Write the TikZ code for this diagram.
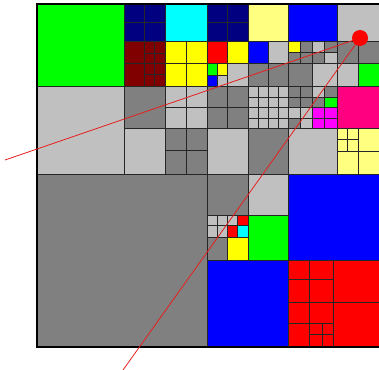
\documentclass[tikz,border=0pt]{standalone}
\usetikzlibrary{shapes.geometric}
\definecolor{qgreen}{RGB}{0,255,0}
\definecolor{qnavy}{RGB}{0,0,128}
\definecolor{qcyan}{RGB}{0,255,255}
\definecolor{qmaroon}{RGB}{128,0,0}
\definecolor{qyellow}{RGB}{255,255,0}
\definecolor{qlyellow}{RGB}{255,255,128}
\definecolor{qblue}{RGB}{0,0,255}
\definecolor{qlgray}{RGB}{192,192,192}
\definecolor{qgray}{RGB}{128,128,128}
\definecolor{qred}{RGB}{255,0,0}
\definecolor{qmagenta}{RGB}{255,0,255}
\definecolor{qpink}{RGB}{255,0,128}
\definecolor{rayred}{RGB}{230,30,30}
\tikzset{
  cellbox/.style={draw=black!85, line width=0.9pt},
  rayline/.style={draw=rayred, line width=0.8pt},
  raydot/.style={circle, fill=qred, draw=none, minimum size=16pt, inner sep=0pt}
}
\newcommand\qcell[5]{\filldraw[cellbox, fill=#1] (#2,#3) rectangle (#4,#5);}
\begin{document}
\begin{tikzpicture}[x=1pt,y=-1pt]
\useasboundingbox (0,0) rectangle (379,369);
\fill[white] (0,0) rectangle (379,369);
\clip (0,0) rectangle (379,369);
% ---------- top-left quadrant
\qcell{qgreen}{37}{4}{124}{86}
\foreach \a/\b/\c/\d in {124/4/144/22,144/4/165/22,124/22/144/41,144/22/165/41,
  207/4/227/22,227/4/248/22,207/22/227/41,227/22/248/41}
  {\qcell{qnavy}{\a}{\b}{\c}{\d}}
\qcell{qcyan}{165}{4}{207}{41}
\foreach \a/\b/\c/\d in {124/41/144/63,124/63/144/86,144/41/154/53,154/41/165/53,
  144/53/154/63,154/53/165/63,144/63/154/74,154/63/165/74,144/74/154/86,154/74/165/86}
  {\qcell{qmaroon}{\a}{\b}{\c}{\d}}
\foreach \a/\b/\c/\d in {165/41/186/63,186/41/207/63,165/63/186/86,186/63/207/86}
  {\qcell{qyellow}{\a}{\b}{\c}{\d}}
\qcell{qlgray}{37}{86}{124}{174}
\qcell{qgray}{124}{86}{165}{128}
\foreach \a/\b/\c/\d in {165/86/186/107,186/86/207/107,165/107/186/128,186/107/207/128}
  {\qcell{qlgray}{\a}{\b}{\c}{\d}}
\qcell{qlgray}{124}{128}{165}{174}
\foreach \a/\b/\c/\d in {165/128/186/150,186/128/207/150,165/150/186/174,186/150/207/174}
  {\qcell{qgray}{\a}{\b}{\c}{\d}}
% ---------- top-right quadrant
\qcell{qlyellow}{248}{4}{288}{41}
\qcell{qred}{207}{41}{227}{63}
\qcell{qyellow}{227}{41}{248}{63}
\qcell{qgreen}{207}{63}{217}{75}
\qcell{qyellow}{217}{63}{227}{75}
\qcell{qblue}{207}{75}{217}{86}
\qcell{qlgray}{217}{75}{227}{86}
\qcell{qlgray}{227}{63}{248}{86}
\qcell{qblue}{248}{41}{268}{63}
\qcell{qlgray}{268}{41}{288}{63}
\qcell{qgray}{248}{63}{268}{86}
\qcell{qgray}{268}{63}{288}{86}
\qcell{qblue}{288}{4}{337}{41}
\qcell{qlgray}{337}{4}{381}{41}
\qcell{qyellow}{288}{41}{300}{52}
\qcell{qgray}{300}{41}{312}{52}
\qcell{qgray}{288}{52}{300}{63}
\qcell{qgray}{300}{52}{312}{63}
\qcell{qlgray}{312}{41}{324}{52}
\qcell{qgray}{324}{41}{337}{52}
\qcell{qgray}{312}{52}{324}{63}
\qcell{qlgray}{324}{52}{337}{63}
\qcell{qgray}{288}{63}{312}{86}
\qcell{qlgray}{312}{63}{337}{86}
\qcell{qgray}{337}{41}{358}{63}
\qcell{qgray}{358}{41}{381}{63}
\qcell{qlgray}{337}{63}{358}{86}
\qcell{qgreen}{358}{63}{381}{86}
\foreach \a/\b/\c/\d in {207/86/227/107,227/86/248/107,207/107/227/128,227/107/248/128}
  {\qcell{qgray}{\a}{\b}{\c}{\d}}
\foreach \a/\c in {248/258,258/268,268/278,278/288}
  \foreach \b/\d in {86/97,97/107,107/118,118/128}
    {\qcell{qlgray}{\a}{\b}{\c}{\d}}
\qcell{qlgray}{207}{128}{248}{174}
\qcell{qgray}{248}{128}{288}{174}
% 4x4 block 288-337 x 86-128
\foreach \a/\b/\c/\d/\k in {
  288/86/300/97/qgray,300/86/312/97/qgray,312/86/324/97/qlgray,324/86/337/97/qgray,
  288/97/300/107/qgray,300/97/312/107/qgray,312/97/324/107/qgray,324/97/337/107/qgreen,
  288/107/300/118/qlgray,300/107/312/118/qlgray,312/107/324/118/qmagenta,324/107/337/118/qmagenta,
  288/118/300/128/qgray,300/118/312/128/qlgray,312/118/324/128/qmagenta,324/118/337/128/qmagenta}
  {\qcell{\k}{\a}{\b}{\c}{\d}}
\qcell{qpink}{337}{86}{381}{128}
\qcell{qlgray}{288}{128}{337}{174}
\foreach \a/\b/\c/\d in {337/128/347/139,347/128/358/139,337/139/347/151,347/139/358/151,
  358/128/381/151,337/151/358/174,358/151/381/174}
  {\qcell{qlyellow}{\a}{\b}{\c}{\d}}
% ---------- bottom-left quadrant
\qcell{qgray}{37}{174}{207}{347}
% ---------- bottom-right quadrant
\qcell{qgray}{207}{174}{248}{215}
\qcell{qlgray}{248}{174}{288}{215}
\foreach \a/\b/\c/\d in {207/215/217/225,217/215/227/225,207/225/217/237,217/225/227/237,227/215/237/225}
  {\qcell{qlgray}{\a}{\b}{\c}{\d}}
\qcell{qred}{237}{215}{248}{225}
\qcell{qred}{227}{225}{237}{237}
\qcell{qcyan}{237}{225}{248}{237}
\qcell{qgray}{207}{237}{227}{260}
\qcell{qyellow}{227}{237}{248}{260}
\qcell{qgreen}{248}{215}{288}{260}
\qcell{qblue}{288}{174}{381}{260}
\qcell{qblue}{207}{260}{288}{347}
\foreach \a/\b/\c/\d in {288/260/309/279,309/260/333/279,288/279/309/302,309/279/333/302,
  333/260/381/302,288/302/309/323,309/302/333/323,288/323/309/347,
  309/323/322/334,322/323/333/334,309/334/322/347,322/334/333/347,333/302/381/347}
  {\qcell{qred}{\a}{\b}{\c}{\d}}
% outer frame
\draw[black, line width=1.1pt] (37,4) rectangle (381,347);
% ---------- rays
\coordinate (src) at (360,38);
\coordinate (endA) at (5,160);
\coordinate (endB) at (123,370);
\draw[rayline] (src) -- (endA);
\draw[rayline] (src) -- (endB);
\node[raydot] (dot) at (src) {};
\end{tikzpicture}
\end{document}
